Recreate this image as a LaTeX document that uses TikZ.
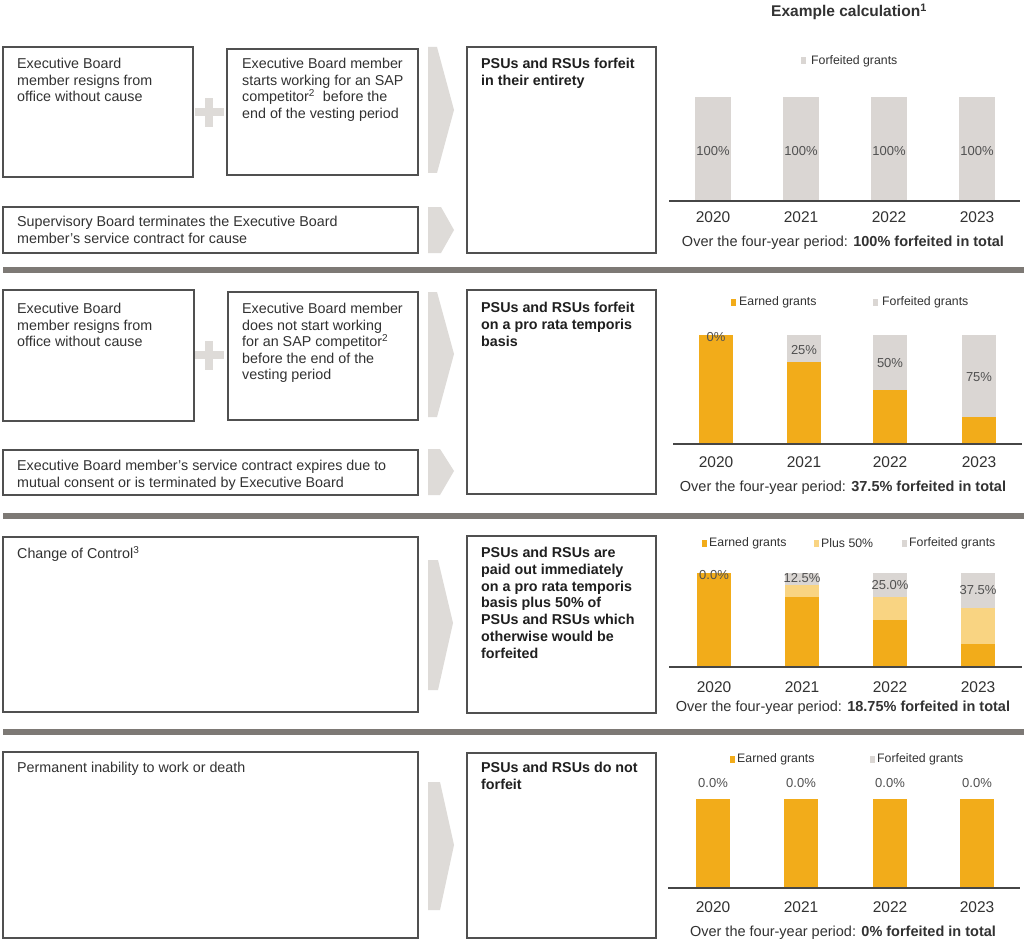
\documentclass[tikz,border=0pt]{standalone}
\usepackage{fontspec}
\setmainfont{Liberation Sans}
\definecolor{gold}{RGB}{242,172,26}
\definecolor{lgold}{RGB}{249,212,130}
\definecolor{fgray}{RGB}{218,214,211}
\definecolor{agray}{RGB}{222,219,216}
\definecolor{sepgray}{RGB}{125,121,117}
\definecolor{bordergray}{RGB}{80,80,80}
\definecolor{txt}{RGB}{50,50,50}
\definecolor{axisgray}{RGB}{70,70,70}
\tikzset{
  boxn/.style={draw=bordergray, line width=1.3pt, anchor=north west, inner sep=0pt, outer sep=0pt},
  body/.style={anchor=north west, inner sep=0pt, text=txt, align=left, font=\fontsize{14.3}{16.5}\selectfont},
  result/.style={anchor=north west, inner sep=0pt, text=black!88, align=left, font=\fontsize{14.3}{16.8}\selectfont\bfseries},
  chev/.style={fill=agray, draw=none},
  plusbar/.style={fill=agray, draw=none},
  sepline/.style={draw=sepgray, line width=6pt},
  axisline/.style={draw=axisgray, line width=1.8pt},
  yearlbl/.style={text=txt, inner sep=0pt, font=\fontsize{15.5}{17}\selectfont},
  barlbl/.style={text=txt!85, inner sep=0pt, font=\fontsize{13}{15}\selectfont},
  leglbl/.style={text=txt, inner sep=0pt, anchor=west, font=\fontsize{12.3}{14}\selectfont},
  caplbl/.style={text=txt, inner sep=0pt, font=\fontsize{14.5}{16}\selectfont},
}
\begin{document}
\begin{tikzpicture}[x=1pt,y=-1pt]
\useasboundingbox[fill=white] (0,0) rectangle (1027,944);

% ---------------- Title
\node[inner sep=0pt, text=txt, font=\fontsize{15.5}{17}\selectfont\bfseries] (title) at (849,12) {Example calculation\textsuperscript{1}};

% ---------------- Section 1
\node[boxn, minimum width=190pt, minimum height=130pt] (s1a) at (3,47) {};
\node[body] (s1at) at ([xshift=14pt,yshift=-11pt]s1a.north west) {Executive Board\\member resigns from\\office without cause};
\node[boxn, minimum width=191pt, minimum height=126pt] (s1b) at (227,49) {};
\node[body] (s1bt) at ([xshift=15pt,yshift=-9pt]s1b.north west) {Executive Board member\\starts working for an SAP\\competitor\textsuperscript{2}\ \ before the\\end of the vesting period};
\node[boxn, minimum width=415pt, minimum height=46pt] (s1c) at (3,207) {};
\node[body] (s1ct) at ([xshift=14pt,yshift=-9pt]s1c.north west) {Supervisory Board terminates the Executive Board\\member’s service contract for cause};
\node[boxn, minimum width=189pt, minimum height=206pt] (s1r) at (467,47) {};
\node[result] (s1rt) at ([xshift=14pt,yshift=-11pt]s1r.north west) {PSUs and RSUs forfeit\\in their entirety};
\fill[plusbar] (195,108) rectangle (224,116);
\fill[plusbar] (205,98) rectangle (213,127);
\fill[chev] (428,47) -- (437,47) -- (454,110) -- (437,173) -- (428,173) -- cycle;
\fill[chev] (428,207) -- (441,207) -- (454,230) -- (441,253) -- (428,253) -- cycle;

% chart 1
\fill[fgray] (801,57) rectangle (806,64);
\node[leglbl] (c1legt) at (811,61) {Forfeited grants};
\foreach \cx/\yr [count=\i] in {713/2020,801/2021,889/2022,977/2023}{
  \fill[fgray] (\cx-18,97) rectangle (\cx+18,201);
  \node[barlbl] (c1b\i) at (\cx,151) {100\%};
  \node[yearlbl] (c1y\i) at (\cx,217) {\yr};
}
\draw[axisline] (669,201) -- (1020,201);
\node[caplbl] (c1cap) at (843,243) {Over the four-year period: \textbf{100\% forfeited in total}};

\draw[sepline] (3,270) -- (1024,270);

% ---------------- Section 2
\node[boxn, minimum width=191pt, minimum height=131pt] (s2a) at (3,290) {};
\node[body] (s2at) at ([xshift=14pt,yshift=-13pt]s2a.north west) {Executive Board\\member resigns from\\office without cause};
\node[boxn, minimum width=190pt, minimum height=128pt] (s2b) at (228,292) {};
\node[body] (s2bt) at ([xshift=14pt,yshift=-11pt]s2b.north west) {Executive Board member\\does not start working\\for an SAP competitor\textsuperscript{2}\\before the end of the\\vesting period};
\node[boxn, minimum width=415pt, minimum height=45pt] (s2c) at (3,450) {};
\node[body] (s2ct) at ([xshift=14pt,yshift=-10pt]s2c.north west) {Executive Board member’s service contract expires due to\\mutual consent or is terminated by Executive Board};
\node[boxn, minimum width=189pt, minimum height=204pt] (s2r) at (467,290) {};
\node[result] (s2rt) at ([xshift=14pt,yshift=-12pt]s2r.north west) {PSUs and RSUs forfeit\\on a pro rata temporis\\basis};
\fill[plusbar] (195,351) rectangle (224,359);
\fill[plusbar] (205,341) rectangle (213,370);
\fill[chev] (428,292) -- (437,292) -- (454,354) -- (437,417) -- (428,417) -- cycle;
\fill[chev] (428,449) -- (440,449) -- (454,471) -- (440,495) -- (428,495) -- cycle;

% chart 2
\fill[gold] (731,299) rectangle (736,306);
\node[leglbl] (c2l1) at (739,302) {Earned grants};
\fill[fgray] (873,299) rectangle (878,306);
\node[leglbl] (c2l2) at (882,302) {Forfeited grants};
\foreach \cx/\yr/\e/\lab/\ly [count=\i] in {716/2020/1/0\%/337,804/2021/0.75/25\%/350,890/2022/0.5/50\%/363,979/2023/0.25/75\%/377}{
  \fill[fgray] (\cx-17,335) rectangle (\cx+17,444);
  \fill[gold] (\cx-17,444-109*\e) rectangle (\cx+17,444);
  \node[barlbl] (c2b\i) at (\cx,\ly) {\lab};
  \node[yearlbl] (c2y\i) at (\cx,462) {\yr};
}
\draw[axisline] (673,444) -- (1022,444);
\node[caplbl] (c2cap) at (843,488) {Over the four-year period: \textbf{37.5\% forfeited in total}};

\draw[sepline] (3,516) -- (1024,516);

% ---------------- Section 3
\node[boxn, minimum width=415pt, minimum height=175pt] (s3a) at (3,537) {};
\node[body] (s3at) at ([xshift=14pt,yshift=-9pt]s3a.north west) {Change of Control\textsuperscript{3}};
\node[boxn, minimum width=189pt, minimum height=177pt] (s3r) at (467,536) {};
\node[result] (s3rt) at ([xshift=14pt,yshift=-11pt]s3r.north west) {PSUs and RSUs are\\paid out immediately\\on a pro rata temporis\\basis plus 50\% of\\PSUs and RSUs which\\otherwise would be\\forfeited};
\fill[chev] (428,560) -- (438,560) -- (453,623) -- (438,690) -- (428,690) -- cycle;

% chart 3
\fill[gold] (702,540) rectangle (707,547);
\node[leglbl] (c3l1) at (709,543) {Earned grants};
\fill[lgold] (814,540) rectangle (819,547);
\node[leglbl] (c3l2) at (821,543) {Plus 50\%};
\fill[fgray] (902,540) rectangle (907,547);
\node[leglbl] (c3l3) at (909,543) {Forfeited grants};
\foreach \cx/\yr/\e/\p/\lab/\ly [count=\i] in {714/2020/1/1/0.0\%/575,802/2021/0.75/0.875/12.5\%/578,890/2022/0.5/0.75/25.0\%/585,978/2023/0.25/0.625/37.5\%/590}{
  \fill[fgray] (\cx-17,573) rectangle (\cx+17,667);
  \fill[lgold] (\cx-17,667-94*\p) rectangle (\cx+17,667);
  \fill[gold] (\cx-17,667-94*\e) rectangle (\cx+17,667);
  \node[barlbl] (c3b\i) at (\cx,\ly) {\lab};
  \node[yearlbl] (c3y\i) at (\cx,687) {\yr};
}
\draw[axisline] (669,667) -- (1022,667);
\node[caplbl] (c3cap) at (843,708) {Over the four-year period: \textbf{18.75\% forfeited in total}};

\draw[sepline] (3,732) -- (1024,732);

% ---------------- Section 4
\node[boxn, minimum width=415pt, minimum height=186pt] (s4a) at (3,752) {};
\node[body] (s4at) at ([xshift=14pt,yshift=-10pt]s4a.north west) {Permanent inability to work or death};
\node[boxn, minimum width=189pt, minimum height=185pt] (s4r) at (467,753) {};
\node[result] (s4rt) at ([xshift=14pt,yshift=-9pt]s4r.north west) {PSUs and RSUs do not\\forfeit};
\fill[chev] (428,782) -- (440,782) -- (454,845) -- (440,910) -- (428,910) -- cycle;

% chart 4
\fill[gold] (730,756) rectangle (735,763);
\node[leglbl] (c4l1) at (737,759) {Earned grants};
\fill[fgray] (870,756) rectangle (875,763);
\node[leglbl] (c4l2) at (877,759) {Forfeited grants};
\foreach \cx/\yr [count=\i] in {713/2020,801/2021,890/2022,977/2023}{
  \fill[gold] (\cx-17,799) rectangle (\cx+17,888);
  \node[barlbl] (c4b\i) at (\cx,783) {0.0\%};
  \node[yearlbl] (c4y\i) at (\cx,907) {\yr};
}
\draw[axisline] (668,888) -- (1020,888);
\node[caplbl] (c4cap) at (843,933) {Over the four-year period: \textbf{0\% forfeited in total}};
\end{tikzpicture}
\end{document}
